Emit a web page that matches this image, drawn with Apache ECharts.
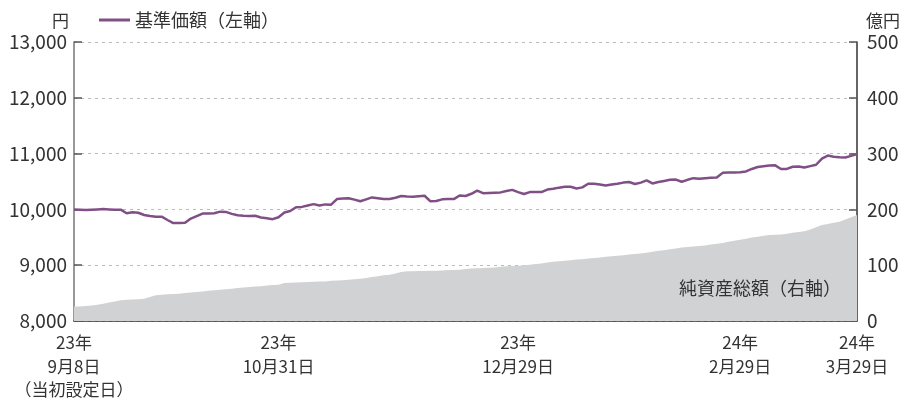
<!DOCTYPE html>
<html>
<head>
<meta charset="utf-8">
<script src="https://cdn.jsdelivr.net/npm/echarts@6/dist/echarts.min.js"></script>
<style>
  html, body { margin: 0; padding: 0; background: #fff; }
  #main { width: 899px; height: 404px; }
</style>
</head>
<body>
<div id="main"></div>
<script>
// 営業日（2023/9/8 〜 2024/3/29）
var startDate = '2023-09-08';
var endDate = '2024-03-29';
var holidays = ['2023-09-18', '2023-10-09', '2023-11-03', '2023-11-23',
    '2024-01-01', '2024-01-02', '2024-01-03', '2024-01-08',
    '2024-02-12', '2024-02-23', '2024-03-20'];

// 目盛ラベル
var tickLabels = {
    '2023-09-08': '23年\n9月8日\n（当初設定日）',
    '2023-10-31': '23年\n10月31日',
    '2023-12-29': '23年\n12月29日',
    '2024-02-29': '24年\n2月29日',
    '2024-03-29': '24年\n3月29日'
};
var tickMarks = ['2023-10-31', '2023-12-29', '2024-02-29'];

// 基準価額（円）
var navValues = [
    10000, 9995, 9990, 9995, 10000, 10005, 10000, 9995, 9995, 9930,
    9950, 9940, 9900, 9880, 9870, 9870, 9810, 9755, 9755, 9760,
    9835, 9880, 9925, 9925, 9930, 9960, 9955, 9920, 9895, 9885,
    9880, 9885, 9855, 9840, 9825, 9860, 9945, 9970, 10040, 10045,
    10070, 10095, 10070, 10090, 10085, 10185, 10195, 10200, 10175, 10145,
    10180, 10215, 10200, 10185, 10185, 10210, 10240, 10230, 10225, 10235,
    10245, 10145, 10150, 10180, 10185, 10185, 10250, 10240, 10280, 10335,
    10290, 10295, 10300, 10305, 10330, 10350, 10310, 10275, 10310, 10310,
    10310, 10355, 10370, 10390, 10405, 10405, 10375, 10395, 10460, 10460,
    10445, 10430, 10445, 10460, 10480, 10490, 10455, 10480, 10520, 10465,
    10490, 10510, 10530, 10535, 10495, 10530, 10560, 10550, 10560, 10565,
    10570, 10655, 10660, 10660, 10665, 10680, 10725, 10760, 10775, 10785,
    10790, 10725, 10725, 10765, 10770, 10750, 10775, 10800, 10910, 10965,
    10945, 10935, 10930, 10960, 10990
];

// 純資産総額（億円）
var assetValues = [
    26, 26, 27, 28, 29, 31, 33, 35, 37, 38,
    38.5, 39, 40, 43, 46, 47, 48, 48.5, 49, 50,
    51, 52, 53, 54, 55, 56, 57, 58, 59, 60,
    61, 62, 62.5, 63.5, 64.5, 65, 68, 68.5, 69, 69.5,
    70, 70.5, 71, 71, 72, 72.6, 73, 74, 75, 75.6,
    77, 79, 80, 82, 83, 85, 88, 89, 89, 89.5,
    89.5, 90, 90, 90.5, 91.5, 91.5, 92, 93, 94, 94.5,
    95, 95.5, 96, 97, 98, 98.5, 99, 100, 101, 102,
    103, 105, 106, 107, 108, 109, 110, 110.7, 112, 113,
    114, 115, 116, 117, 118, 119, 120, 121, 122.5, 124,
    126, 127, 128.5, 130, 131.5, 132.5, 133.5, 134.5, 135.5, 137,
    138.5, 140, 142, 144, 145.5, 147.5, 149.5, 151, 153, 154,
    154.5, 155, 156.5, 158, 159.5, 161, 164, 168, 172, 174,
    176, 178, 182, 186, 190
];

function pad(n) { return n < 10 ? '0' + n : '' + n; }
var days = [];
var d = new Date(startDate + 'T00:00:00Z');
var last = new Date(endDate + 'T00:00:00Z');
while (d <= last) {
    var s = d.getUTCFullYear() + '-' + pad(d.getUTCMonth() + 1) + '-' + pad(d.getUTCDate());
    var wd = d.getUTCDay();
    if (wd !== 0 && wd !== 6 && holidays.indexOf(s) < 0) days.push(s);
    d.setUTCDate(d.getUTCDate() + 1);
}

var font = '"Noto Sans CJK JP", "Noto Sans", sans-serif';
var textColor = '#333';
var chart = echarts.init(document.getElementById('main'));

var option = {
    animation: false,
    backgroundColor: '#fff',
    textStyle: { fontFamily: font, color: textColor },
    grid: { left: 74, right: 42, top: 42, bottom: 83, outerBoundsMode: 'none', containLabel: false },
    legend: {
        left: 94, top: 6,
        icon: 'rect', itemWidth: 31, itemHeight: 3, itemGap: 6,
        textStyle: { fontFamily: font, fontSize: 18, color: textColor },
        data: ['基準価額（左軸）']
    },
    xAxis: {
        type: 'category',
        data: days,
        boundaryGap: false,
        axisLine: { lineStyle: { color: '#333', width: 1.5 } },
        axisTick: {
            inside: true, length: 7,
            lineStyle: { color: '#333' },
            interval: function (i, v) { return tickMarks.indexOf(v) >= 0; }
        },
        axisLabel: {
            interval: function (i, v) { return !!tickLabels[v]; },
            formatter: function (v) { return tickLabels[v] || ''; },
            fontFamily: font, fontSize: 17, color: textColor,
            lineHeight: 23.5, margin: 10
        }
    },
    yAxis: [
        {
            type: 'value', min: 8000, max: 13000, interval: 1000,
            name: '円', nameGap: 13,
            nameTextStyle: { fontFamily: font, fontSize: 17, color: textColor, align: 'right', padding: [0, 5, 0, 0] },
            axisLine: { show: true, lineStyle: { color: '#777', width: 1.5 } },
            axisTick: { show: true, inside: true, length: 8, lineStyle: { color: '#555', width: 1.5 } },
            axisLabel: {
                fontFamily: font, fontSize: 19, color: textColor, margin: 7,
                formatter: function (v) { return echarts.format.addCommas(v); }
            },
            splitLine: { show: true, lineStyle: { color: '#bbb', type: [3, 4], width: 1 } }
        },
        {
            type: 'value', min: 0, max: 500, interval: 100,
            name: '億円', nameGap: 13,
            nameTextStyle: { fontFamily: font, fontSize: 17, color: textColor, align: 'left', padding: [0, 0, 0, 9] },
            axisLine: { show: true, lineStyle: { color: '#333', width: 1.5 } },
            axisTick: { show: true, inside: true, length: 8, lineStyle: { color: '#555', width: 1.5 } },
            axisLabel: { fontFamily: font, fontSize: 19, color: textColor, margin: 10 },
            splitLine: { show: false }
        }
    ],
    graphic: [{
        type: 'text', right: 58, top: 279, z: 10,
        style: { text: '純資産総額（右軸）', font: '18px ' + font, fill: textColor }
    }],
    series: [
        {
            name: '純資産総額（右軸）',
            type: 'line',
            yAxisIndex: 1,
            data: assetValues,
            showSymbol: false,
            lineStyle: { width: 0 },
            itemStyle: { color: '#d1d2d4' },
            areaStyle: { color: '#d1d2d4', opacity: 1 },
            z: 1
        },
        {
            name: '基準価額（左軸）',
            type: 'line',
            yAxisIndex: 0,
            data: navValues,
            showSymbol: false,
            lineStyle: { width: 2.5, color: '#7f4f85' },
            itemStyle: { color: '#7f4f85' },
            z: 3
        }
    ]
};

chart.setOption(option);
</script>
</body>
</html>
